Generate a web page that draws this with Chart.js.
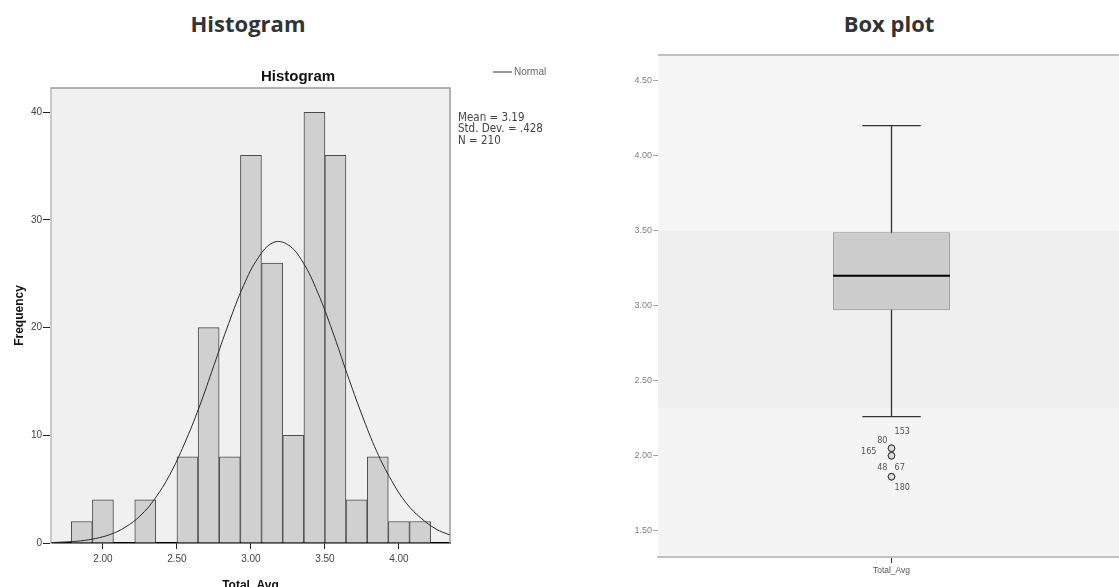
<!DOCTYPE html>
<html lang="en">
<head>
  <meta charset="UTF-8" />
  <title>Total_Avg - Histogram and Box plot</title>
  <script src="https://cdn.jsdelivr.net/npm/chart.js"></script>
  <style>
    html, body {
      margin: 0;
      padding: 0;
      background: #fff;
      overflow: hidden;
    }
    body {
      position: relative;
      width: 1119px;
      height: 587px;
    }
    .heading {
      position: absolute;
      top: 8px;
      width: 300px;
      text-align: center;
      font-family: "Open Sans", sans-serif;
      font-weight: 700;
      font-size: 22px;
      line-height: 30px;
      color: #333;
    }
    #histHead { left: 98px; }
    #boxHead { left: 739px; }
    #histCanvas { position: absolute; left: 0; top: 0; }
    #boxCanvas { position: absolute; left: 590px; top: 0; }
  </style>
</head>
<body>

<div class="heading" id="histHead">Histogram</div>
<div class="heading" id="boxHead">Box plot</div>

<canvas id="histCanvas" width="596" height="600"></canvas>
<canvas id="boxCanvas" width="540" height="587"></canvas>

<script>
// histogram bins (bin centres) and counts
const histBins = [1.857, 2.000, 2.143, 2.286, 2.429, 2.571, 2.714, 2.857, 3.000, 3.143, 3.286, 3.429, 3.571, 3.714, 3.857, 4.000, 4.143];
const histFreq = [2, 4, 0, 4, 0, 8, 20, 8, 36, 26, 10, 40, 36, 4, 8, 2, 2];

// normal curve
const curveX = [1.65, 1.75, 1.85, 1.95, 2.05, 2.15, 2.25, 2.35, 2.45, 2.55, 2.65, 2.75, 2.85, 2.95, 3.05, 3.15, 3.25, 3.35, 3.45, 3.55, 3.65, 3.75, 3.85, 3.95, 4.05, 4.15, 4.25, 4.345];
const curveY = [0.04, 0.1, 0.2, 0.42, 0.8, 1.46, 2.5, 4.1, 6.3, 9.2, 12.6, 16.5, 20.4, 23.9, 26.5, 27.9, 27.7, 26.1, 23.3, 19.7, 15.7, 11.9, 8.5, 5.8, 3.7, 2.3, 1.3, 0.73];

const histXTicks = [2.00, 2.50, 3.00, 3.50, 4.00];
const histYTicks = [0, 10, 20, 30, 40];
const histStats = ['Mean = 3.19', 'Std. Dev. = .428', 'N = 210'];

// box plot
const boxLabels = ['Total_Avg'];
const boxMin = 2.26;
const boxQ1 = 2.97;
const boxMedian = 3.20;
const boxQ3 = 3.49;
const boxMax = 4.20;
const outlierValues = [2.05, 2.05, 2.00, 2.00, 1.86, 1.86];
const outlierCases = ['153', '80', '165', '67', '48', '180'];
const boxYTicks = [1.50, 2.00, 2.50, 3.00, 3.50, 4.00, 4.50];

const narrow = '"Liberation Sans Narrow", "Arial Narrow", "DejaVu Sans Condensed", sans-serif';
const sans = '"Liberation Sans", Arial, sans-serif';

const histDecor = {
  id: 'histDecor',
  beforeDraw(chart) {
    const {ctx, chartArea: a} = chart;
    ctx.save();
    ctx.fillStyle = '#f0f0f0';
    ctx.fillRect(a.left, a.top, a.right - a.left, a.bottom - a.top);
    ctx.restore();
  },
  afterDraw(chart) {
    const {ctx, chartArea: a} = chart;
    ctx.save();
    // frame top + right
    ctx.strokeStyle = '#9a9a9a';
    ctx.lineWidth = 1.5;
    ctx.beginPath();
    ctx.moveTo(a.left, a.top);
    ctx.lineTo(a.right, a.top);
    ctx.lineTo(a.right, a.bottom);
    ctx.stroke();

    // inner title
    ctx.fillStyle = '#111';
    ctx.font = 'bold 15px ' + sans;
    ctx.textAlign = 'center';
    ctx.textBaseline = 'alphabetic';
    ctx.fillText('Histogram', chart.width / 2, a.top - 7);

    // legend
    ctx.strokeStyle = '#333';
    ctx.lineWidth = 1;
    ctx.beginPath();
    ctx.moveTo(a.right + 43, a.top - 16);
    ctx.lineTo(a.right + 62, a.top - 16);
    ctx.stroke();
    ctx.fillStyle = '#666';
    ctx.font = '10px ' + sans;
    ctx.textAlign = 'left';
    ctx.textBaseline = 'middle';
    ctx.fillText('Normal', a.right + 64, a.top - 16);

    // stats
    ctx.fillStyle = '#444';
    ctx.font = '11.5px ' + narrow;
    const dy = [30, 41, 53];
    histStats.forEach((s, i) => ctx.fillText(s, a.right + 8, a.top + dy[i]));
    ctx.restore();
  }
};

const histChart = new Chart(document.getElementById('histCanvas'), {
  type: 'bar',
  data: {
    datasets: [{
      type: 'line',
      data: curveX.map((x, i) => ({x: x, y: curveY[i]})),
      borderColor: '#2a2a2a',
      borderWidth: 1,
      pointRadius: 0,
      tension: 0.4,
      fill: false,
      order: 0
    }, {
      type: 'bar',
      data: histBins.map((b, i) => ({x: b, y: histFreq[i]})),
      backgroundColor: '#d0d0d0',
      borderColor: '#4a4a4a',
      borderWidth: 1,
      barPercentage: 1,
      categoryPercentage: 1,
      order: 1
    }]
  },
  options: {
    responsive: false,
    animation: false,
    layout: { padding: { top: 88, right: 146, left: 0, bottom: 0 } },
    plugins: { legend: { display: false }, tooltip: { enabled: false }, title: { display: false } },
    scales: {
      x: {
        type: 'linear',
        min: 1.649,
        max: 4.345,
        offset: false,
        afterBuildTicks: s => { s.ticks = histXTicks.map(v => ({value: v})); },
        afterFit: s => { s.height = 57; },
        grid: { offset: false, drawOnChartArea: false, tickLength: 6, tickColor: '#222' },
        border: { display: true, color: '#000', width: 1.5 },
        ticks: { color: '#444', font: { family: sans, size: 10 }, padding: 4, maxRotation: 0, autoSkip: false,
                 callback: v => v.toFixed(2) },
        title: { display: true, text: 'Total_Avg', color: '#111', font: { family: sans, size: 12, weight: 'bold' },
                 padding: { top: 0, bottom: 7 } }
      },
      y: {
        min: 0,
        max: 42.25,
        afterBuildTicks: s => { s.ticks = histYTicks.map(v => ({value: v})); },
        afterFit: s => { s.width = 51; },
        grid: { drawOnChartArea: false, tickLength: 8, tickColor: '#222' },
        border: { display: true, color: '#cacaca', width: 2 },
        ticks: { color: '#444', font: { family: sans, size: 10 }, padding: 1 },
        title: { display: true, text: 'Frequency', color: '#111', font: { family: sans, size: 12, weight: 'bold' },
                 padding: { top: 12, bottom: 0 } }
      }
    }
  },
  plugins: [histDecor]
});

const boxDecor = {
  id: 'boxDecor',
  beforeDraw(chart) {
    const {ctx, chartArea: a, scales: {y}} = chart;
    ctx.save();
    ctx.fillStyle = '#f4f4f4';
    ctx.fillRect(a.left, a.top, a.right - a.left, a.bottom - a.top);
    ctx.fillStyle = '#f5f5f5';
    ctx.fillRect(a.left, a.top, a.right - a.left, y.getPixelForValue(3.5) - a.top);
    ctx.fillStyle = '#efefef';
    const b1 = y.getPixelForValue(3.5), b2 = y.getPixelForValue(2.32);
    ctx.fillRect(a.left, b1, a.right - a.left, b2 - b1);
    ctx.restore();
  },
  beforeDatasetsDraw(chart) {
    const {ctx, scales: {y}} = chart;
    const bar = chart.getDatasetMeta(0).data[0];
    const half = bar.width / 4;
    ctx.save();
    ctx.strokeStyle = '#333';
    ctx.lineWidth = 1.3;
    ctx.beginPath();
    ctx.moveTo(bar.x, y.getPixelForValue(boxMax));
    ctx.lineTo(bar.x, y.getPixelForValue(boxMin));
    [boxMax, boxMin].forEach(v => {
      const py = y.getPixelForValue(v);
      ctx.moveTo(bar.x - half, py);
      ctx.lineTo(bar.x + half, py);
    });
    ctx.stroke();
    ctx.restore();
  },
  afterDatasetsDraw(chart) {
    const {ctx, scales: {y}} = chart;
    const bar = chart.getDatasetMeta(0).data[0];
    const py = y.getPixelForValue(boxMedian);
    ctx.save();
    ctx.strokeStyle = '#000';
    ctx.lineWidth = 2;
    ctx.beginPath();
    ctx.moveTo(bar.x - bar.width / 2, py);
    ctx.lineTo(bar.x + bar.width / 2, py);
    ctx.stroke();
    ctx.restore();
  },
  afterDraw(chart) {
    const {ctx, chartArea: a} = chart;
    ctx.save();
    ctx.strokeStyle = '#c0c0c0';
    ctx.lineWidth = 2;
    ctx.beginPath();
    ctx.moveTo(a.left, a.top);
    ctx.lineTo(a.right, a.top);
    ctx.stroke();

    // case labels next to the outliers
    const offs = [[3, -17, 'left'], [-4, -8, 'right'], [-15, -4, 'right'], [3, 12, 'left'], [-4, -9, 'right'], [3, 11, 'left']];
    ctx.font = '9px ' + narrow;
    ctx.fillStyle = '#555';
    ctx.textBaseline = 'middle';
    chart.getDatasetMeta(1).data.forEach((p, i) => {
      ctx.textAlign = offs[i][2];
      ctx.fillText(outlierCases[i], p.x + offs[i][0], p.y + offs[i][1]);
    });
    ctx.restore();
  }
};

const boxChart = new Chart(document.getElementById('boxCanvas'), {
  type: 'bar',
  data: {
    labels: boxLabels,
    datasets: [{
      type: 'bar',
      data: [[boxQ1, boxQ3]],
      backgroundColor: '#cccccc',
      borderColor: '#8a8a8a',
      borderWidth: 1,
      borderSkipped: false,
      barPercentage: 0.25,
      categoryPercentage: 1,
      order: 1
    }, {
      type: 'line',
      data: outlierValues.map(v => ({x: boxLabels[0], y: v})),
      showLine: false,
      pointRadius: 3.3,
      pointBorderWidth: 1,
      pointBorderColor: '#333',
      pointBackgroundColor: '#dcdcdc',
      order: 0
    }]
  },
  options: {
    responsive: false,
    animation: false,
    layout: { padding: { top: 55, right: 4, left: 0, bottom: 0 } },
    plugins: { legend: { display: false }, tooltip: { enabled: false } },
    scales: {
      x: {
        afterFit: s => { s.height = 30; },
        grid: { offset: false, drawOnChartArea: false, tickLength: 6, tickColor: '#333' },
        border: { display: true, color: '#c0c0c0', width: 2 },
        ticks: { color: '#555', font: { family: sans, size: 8.5 }, padding: 3 }
      },
      y: {
        min: 1.325,
        max: 4.671,
        afterBuildTicks: s => { s.ticks = boxYTicks.map(v => ({value: v})); },
        afterFit: s => { s.width = 68; },
        grid: { drawOnChartArea: false, tickLength: 5, tickColor: '#aaa' },
        border: { display: false },
        ticks: { color: '#808080', font: { family: sans, size: 9 }, padding: 1, callback: v => v.toFixed(2) }
      }
    }
  },
  plugins: [boxDecor]
});
</script>

</body>
</html>
